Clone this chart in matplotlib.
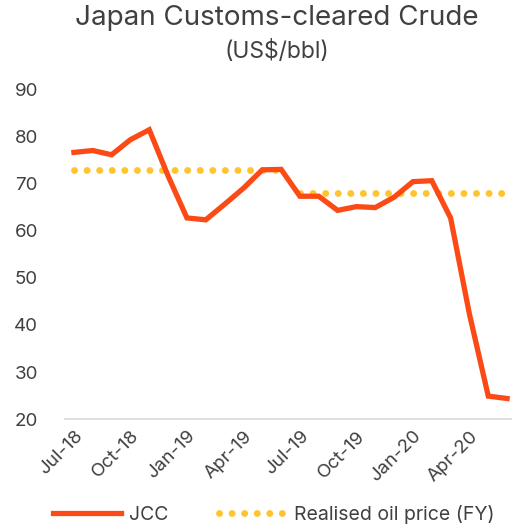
import matplotlib.pyplot as plt
import numpy as np

plt.rcParams['font.family'] = ['Inter', 'DejaVu Sans']

months = ['Jul-18', 'Aug-18', 'Sep-18', 'Oct-18', 'Nov-18', 'Dec-18',
          'Jan-19', 'Feb-19', 'Mar-19', 'Apr-19', 'May-19', 'Jun-19',
          'Jul-19', 'Aug-19', 'Sep-19', 'Oct-19', 'Nov-19', 'Dec-19',
          'Jan-20', 'Feb-20', 'Mar-20', 'Apr-20', 'May-20', 'Jun-20']
jcc = [76.6, 77.0, 76.1, 79.3, 81.4, 71.6,
       62.7, 62.3, 65.6, 69.0, 72.9, 73.0,
       67.3, 67.3, 64.3, 65.1, 64.9, 67.1,
       70.4, 70.6, 62.7, 42.3, 24.9, 24.4]
# realised oil price by fiscal year (Jul-Jun)
fy_price = [72.9, 68.0]

red = '#FC4A16'
yellow = '#FFC530'
grey = '#404040'

x = np.arange(len(months))

fig = plt.figure(figsize=(5.12, 5.28), dpi=100)
ax = fig.add_axes([0.126, 0.206, 0.874, 0.625])

fy1 = np.full(12, fy_price[0])
fy2 = np.full(12, fy_price[1])
dot = dict(color=yellow, lw=5, linestyle=(0, (0.01, 1.8)), dash_capstyle='round')
ax.plot(x[:12], fy1, **dot, label='Realised oil price (FY)')
ax.plot(x[12:], fy2, **dot)
ax.plot(x, jcc, color=red, lw=3.8, solid_joinstyle='miter', label='JCC', zorder=3)

ax.set_xlim(-0.5, 23.26)
ax.set_ylim(20, 90)
ax.set_yticks(range(20, 91, 10))
ax.set_xticks(x[::3])
ax.set_xticklabels(months[::3], rotation=45, ha='right', rotation_mode='anchor')
ax.tick_params(axis='both', length=0, labelsize=13.5, colors=grey)
ax.tick_params(axis='y', pad=19)
ax.tick_params(axis='x', pad=6)
for s in ['top', 'right', 'left']:
    ax.spines[s].set_visible(False)
ax.spines['bottom'].set_color('#d9d9d9')
ax.spines['bottom'].set_linewidth(1.2)

fig.text(0.54, 0.965, 'Japan Customs-cleared Crude', ha='center', va='center',
         fontsize=20, color=grey)
fig.text(0.54, 0.902, '(US$/bbl)', ha='center', va='center', fontsize=16.5, color=grey)

h, l = ax.get_legend_handles_labels()
fig.legend([h[1], h[0]], [l[1], l[0]], loc='center', bbox_to_anchor=(0.535, 0.025),
           ncol=2, frameon=False, fontsize=14, handlelength=3.5, columnspacing=2.6,
           handletextpad=0.4, labelcolor=grey)

fig.savefig('out.png', dpi=100)
